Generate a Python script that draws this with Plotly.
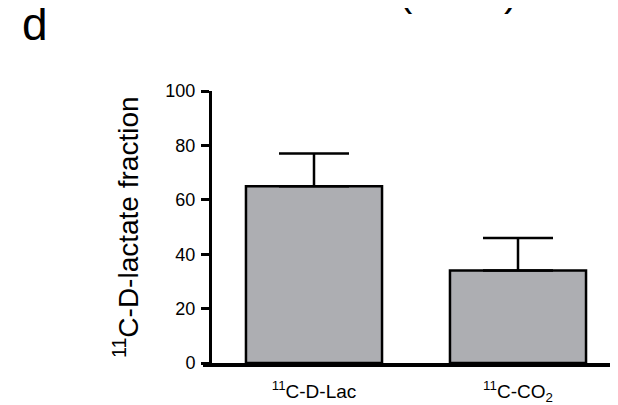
import plotly.graph_objects as go

categories = ["<sup>11</sup>C-D-Lac", "<sup>11</sup>C-CO<sub>2</sub>"]
values = [65, 34]
errors_up = [12, 12]
y_ticks = [0, 20, 40, 60, 80, 100]

W, H = 618, 405
L, R, T, B = 204, 6, 83, 50
pw = W - L - R
ph = H - T - B

fig = go.Figure()
fig.add_trace(go.Bar(
    x=categories, y=values, width=0.667,
    marker=dict(color="#ADAEB2", line=dict(color="black", width=2.5)),
    error_y=dict(type="data", array=errors_up, arrayminus=[0] * len(values),
                 symmetric=False, color="black", thickness=2.5, width=35),
))

font = "Liberation Sans, Arial, sans-serif"
fig.update_layout(
    width=W, height=H,
    margin=dict(l=L, r=R, t=T, b=B, pad=0),
    plot_bgcolor="white", paper_bgcolor="white",
    showlegend=False,
    font=dict(family=font, color="black"),
    xaxis=dict(range=[-0.5, 1.5], showline=True, linecolor="black", linewidth=4,
               ticks="", showgrid=False, zeroline=False,
               tickfont=dict(size=19, family=font, color="black"),
               ticklabelstandoff=8),
    yaxis=dict(range=[0, 100], tickvals=y_ticks, showline=True, linecolor="black",
               linewidth=3, ticks="outside", ticklen=8, tickwidth=3, tickcolor="black",
               showgrid=False, zeroline=False,
               tickfont=dict(size=18, family=font, color="black"),
               ticklabelstandoff=2),
)

# x-axis line extension to the left of the y axis (as in the reference)
fig.add_shape(type="line", xref="paper", yref="paper",
              x0=(195 - L) / pw, x1=0, y0=-2 / ph, y1=-2 / ph,
              line=dict(color="black", width=4))

fig.add_annotation(
    text="<sup>11</sup>C-D-lactate fraction", textangle=-90,
    xref="paper", yref="paper", x=(118 - L) / pw, y=0.5,
    showarrow=False, font=dict(size=28, family=font, color="black"),
    xanchor="center", yanchor="middle",
)
fig.add_annotation(
    text="d", xref="paper", yref="paper",
    x=(12 - L) / pw, y=1 + (T + 12) / ph,
    xanchor="left", yanchor="top", showarrow=False,
    font=dict(size=46, family=font, color="black"),
)
for ch, px in [("(", 398), (")", 502)]:
    fig.add_annotation(
        text=ch, xref="paper", yref="paper",
        x=(px - L) / pw, y=1 + (T - 8) / ph,
        xanchor="center", yanchor="bottom", showarrow=False,
        font=dict(size=40, family=font, color="black"),
    )

fig.write_html("out.html")
